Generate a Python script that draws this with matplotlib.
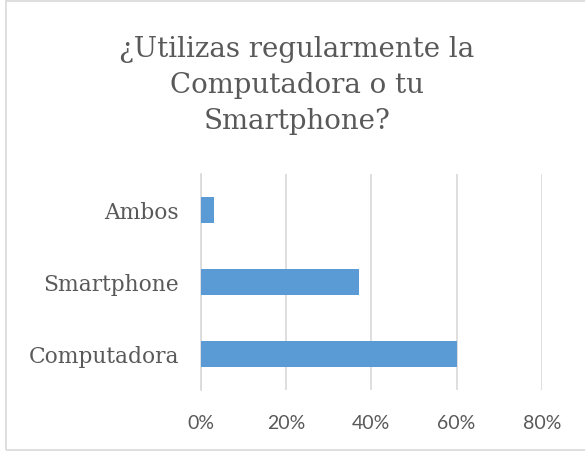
import matplotlib.pyplot as plt
from matplotlib.patches import Rectangle
from matplotlib.ticker import PercentFormatter

# datos de la encuesta
categorias = ['Computadora', 'Smartphone', 'Ambos']
porcentajes = [60, 37, 3]
ticks_x = [0, 20, 40, 60, 80]

gris = '#595959'
azul = '#5b9bd5'
rejilla = '#d9d9d9'

fig = plt.figure(figsize=(5.85, 4.51), dpi=100)
ax = fig.add_axes([201/585, 1-390/451, (541.7-201)/585, (390-174.3)/451])

y = range(len(categorias))
ax.barh(y, porcentajes, height=0.355, color=azul, zorder=3)
ax.set_ylim(-0.5, 2.5)
ax.set_xlim(0, 80)
ax.set_xticks(ticks_x)
ax.xaxis.set_major_formatter(PercentFormatter(decimals=0))
ax.set_yticks(list(y))
ax.set_yticklabels(categorias, family='DejaVu Serif', fontsize=15.7, color=gris)
for lab in ax.get_xticklabels():
    lab.set_family('Lato')
    lab.set_fontsize(14)
    lab.set_color(gris)
ax.tick_params(axis='x', length=0, pad=18)
ax.tick_params(axis='y', length=0, pad=16)
ax.grid(axis='x', color=rejilla, linewidth=1.2, zorder=0)
for s in ['top', 'right', 'bottom']:
    ax.spines[s].set_visible(False)
ax.spines['left'].set_color(rejilla)
ax.spines['left'].set_linewidth(1.2)

fig.text(297/585, 1-36/451, '¿Utilizas regularmente la\nComputadora o tu\nSmartphone?',
         ha='center', va='top', family='DejaVu Serif', fontsize=19.9,
         color=gris, linespacing=1.44)

# borde del grafico
fig.patches.append(Rectangle((5.5/585, 1/451), 1.2, 449/451, transform=fig.transFigure,
                             fill=False, edgecolor=rejilla, linewidth=1.2))

fig.savefig('out.png', dpi=100)
